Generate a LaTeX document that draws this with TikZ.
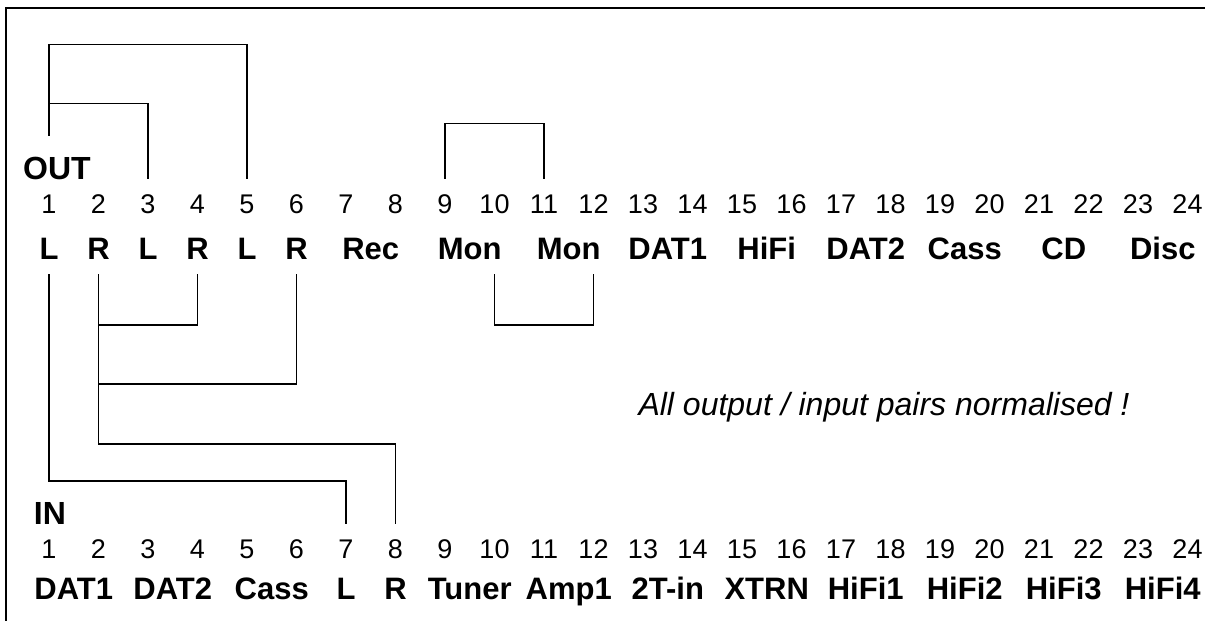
\documentclass[tikz,border=0pt]{standalone}
\usepackage{fontspec}
\setmainfont{Liberation Sans}
\usetikzlibrary{calc}

\begin{document}
\begin{tikzpicture}[x=1pt, y=-1pt,
  num/.style={font=\fontsize{27}{27}\selectfont, inner sep=0pt,
    text height=19pt, text depth=0pt, minimum height=50pt},
  jack/.style={font=\bfseries\fontsize{31}{31}\selectfont, inner sep=0pt,
    text height=22pt, text depth=0pt},
  head/.style={font=\bfseries\fontsize{32}{32}\selectfont, inner sep=0pt,
    text height=23pt, text depth=0pt},
  wire/.style={line width=1.2pt}]
  \useasboundingbox (0,0) rectangle (1205,621);

  % Frame (top and left edge only)
  \draw[line width=1.3pt] (1205,8) -- (6,8) -- (6,621);

  % Socket numbers, top and bottom row
  \foreach \k in {1,...,24} {
    \node[num] (o\k) at ({49+49.5*(\k-1)}, 204) {\k};
    \node[num] (i\k) at ({49+49.5*(\k-1)}, 549) {\k};
    \coordinate (ob\k) at ($(o\k)+(0,70)$);
  }

  % Row headings
  \node[head, minimum height=64pt] (out) at (57,168) {OUT};
  \node[head] (in) at (50,513) {IN};

  % OUT labels
  \foreach \k/\txt in {1/L,2/R,3/L,4/R,5/L,6/R}
    \node[jack] (ol\k) at ({49+49.5*(\k-1)}, 248) {\txt};
  \foreach \k/\txt in {7/Rec,9/Mon,11/Mon,13/DAT1,15/HiFi,17/DAT2,19/Cass,21/CD,23/Disc}
    \node[jack] (ol\k) at ({49+49.5*(\k-0.5)}, 248) {\txt};

  % IN labels
  \foreach \k/\txt in {7/L,8/R}
    \node[jack] (il\k) at ({49+49.5*(\k-1)}, 588) {\txt};
  \foreach \k/\txt in {1/DAT1,3/DAT2,5/Cass,9/Tuner,11/Amp1,13/2T-in,15/XTRN,17/HiFi1,19/HiFi2,21/HiFi3,23/HiFi4}
    \node[jack] (il\k) at ({49+49.5*(\k-0.5)}, 588) {\txt};

  % Normalling above the OUT row
  \draw[wire] (out.north -| o1) -- ++(0,-91) -| (o5.north);
  \draw[wire] (out.north -| o1) ++(0,-32) -| (o3.north);
  \draw[wire] (o9.north) -- ++(0,-55) -| (o11.north);

  % Normalling between OUT and IN
  \draw[wire] (ob10) -- ++(0,51) -| (ob12);
  \draw[wire] (ob4) -- ++(0,51) -| (ob2);
  \draw[wire] (ob6) -- ++(0,110) -| (ob2);
  \draw[wire] (ob2) -- ++(0,170) -| (i8.north);
  \draw[wire] (ob1) -- ++(0,207) -| (i7.north);

  \node[font=\itshape\fontsize{32}{32}\selectfont] (note) at (884,407)
    {All output / input pairs normalised !};
\end{tikzpicture}
\end{document}
